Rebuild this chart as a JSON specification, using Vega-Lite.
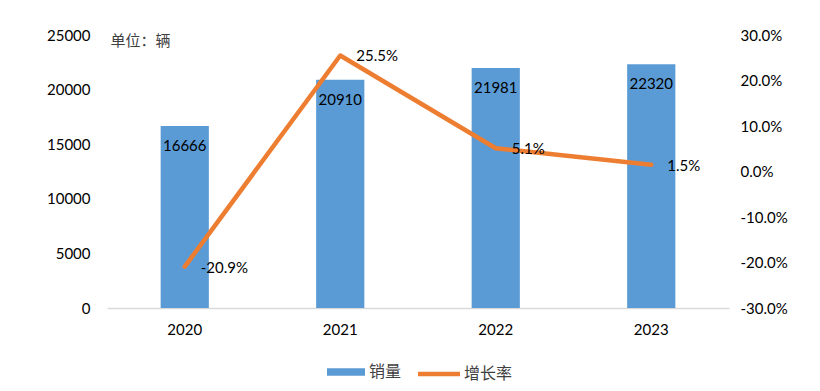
{
  "$schema": "https://vega.github.io/schema/vega-lite/v6.json",
  "autosize": "none",
  "width": 622,
  "height": 273,
  "padding": {"left": 107, "top": 35, "right": 91, "bottom": 83},
  "background": "white",
  "config": {
    "view": {"stroke": null},
    "font": "Lato",
    "locale": {"number": {"decimal": ".", "thousands": ",", "grouping": [3], "currency": ["$", ""], "minus": "-"}},
    "axis": {"labelFont": "Lato", "labelFontSize": 15, "labelColor": "#000000", "grid": false, "ticks": false}
  },
  "data": {
    "values": [
      {"year": "2020", "sales": 16666, "growth": -0.209, "s1": "销量", "s2": "增长率"},
      {"year": "2021", "sales": 20910, "growth": 0.255, "s1": "销量", "s2": "增长率"},
      {"year": "2022", "sales": 21981, "growth": 0.051, "s1": "销量", "s2": "增长率"},
      {"year": "2023", "sales": 22320, "growth": 0.015, "s1": "销量", "s2": "增长率"}
    ]
  },
  "encoding": {
    "x": {
      "field": "year", "type": "ordinal",
      "scale": {"paddingInner": 0.69, "paddingOuter": 0.345},
      "axis": {"title": null, "labelAngle": 0, "domainColor": "#d9d9d9", "domainWidth": 1.5, "labelPadding": 14}
    }
  },
  "layer": [
    {
      "layer": [
        {
          "mark": {"type": "bar", "color": "#5b9bd5"},
          "encoding": {
            "y": {
              "field": "sales", "type": "quantitative",
              "scale": {"domain": [0, 25000], "nice": false},
              "axis": {"values": [0, 5000, 10000, 15000, 20000, 25000], "domain": false, "labelPadding": 17, "format": "d",
                "title": "单位：辆", "titleAngle": 0, "titleX": 3, "titleY": 5, "titleAlign": "left", "titleBaseline": "middle",
                "titleFont": "Noto Sans CJK SC", "titleFontSize": 15, "titleFontWeight": "normal", "titleColor": "#404040"}
            },
            "color": {
              "field": "s1", "type": "nominal",
              "scale": {"range": ["#5b9bd5"]},
              "legend": {"orient": "none", "legendX": 220, "legendY": 318, "title": null,
                "symbolType": "M-1,-0.2H1V0.2H-1Z", "symbolSize": 1444, "symbolStrokeWidth": 0, "symbolOpacity": 1,
                "labelFont": "Noto Sans CJK SC", "labelFontSize": 16, "labelColor": "#404040", "labelOffset": 4}
            }
          }
        },
        {
          "mark": {"type": "text", "baseline": "top", "dy": 13, "fontSize": 15, "color": "#000000"},
          "encoding": {
            "y": {"field": "sales", "type": "quantitative"},
            "text": {"field": "sales", "type": "quantitative", "format": "d"}
          }
        }
      ]
    },
    {
      "layer": [
        {
          "mark": {"type": "line", "color": "#ed7d31", "strokeWidth": 4.5, "strokeCap": "round", "strokeJoin": "round"},
          "encoding": {
            "y": {
              "field": "growth", "type": "quantitative",
              "scale": {"domain": [-0.3, 0.3], "nice": false},
              "axis": {"orient": "right", "format": ".1%", "values": [-0.3, -0.2, -0.1, 0, 0.1, 0.2, 0.3], "domain": false, "labelPadding": 11, "title": null}
            },
            "color": {
              "field": "s2", "type": "nominal",
              "scale": {"range": ["#ed7d31"]},
              "legend": {"orient": "none", "legendX": 311, "legendY": 318, "title": null,
                "symbolType": "M-1,-0.11H1V0.11H-1Z", "symbolSize": 1764, "symbolStrokeWidth": 0, "symbolFillColor": "#ed7d31", "symbolOpacity": 1,
                "labelFont": "Noto Sans CJK SC", "labelFontSize": 16, "labelColor": "#404040", "labelOffset": 4}
            }
          }
        },
        {
          "mark": {"type": "text", "align": "left", "baseline": "middle", "dx": 16, "dy": 1, "fontSize": 15, "color": "#000000"},
          "encoding": {
            "y": {"field": "growth", "type": "quantitative"},
            "text": {"field": "growth", "type": "quantitative", "format": ".1%"}
          }
        }
      ]
    }
  ],
  "resolve": {"scale": {"y": "independent", "color": "independent"}}
}
